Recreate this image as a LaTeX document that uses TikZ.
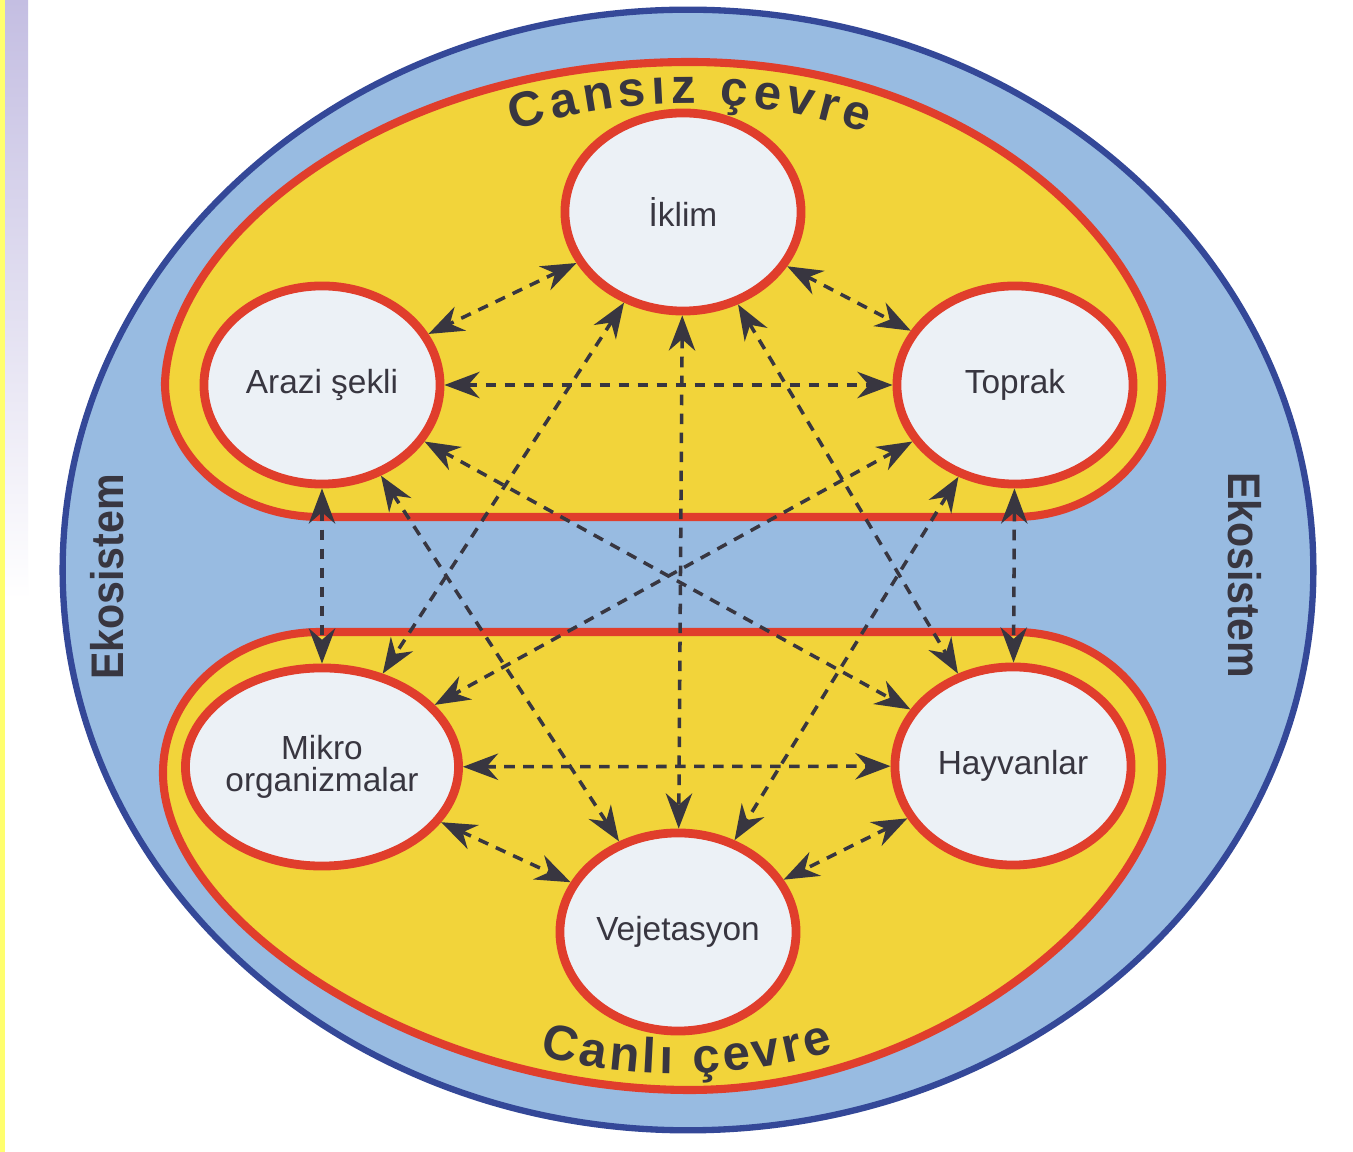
\documentclass[tikz,border=0pt]{standalone}
\usepackage{fontspec}
\setmainfont{Liberation Sans}
\newfontfamily\ekofont{Liberation Sans}[FakeStretch=0.9]
\usepackage{tikz}
\usepackage{xcolor}
\usetikzlibrary{shapes.geometric, arrows.meta, decorations.text}

\definecolor{skyblue}{RGB}{152,187,225}
\definecolor{rimblue}{RGB}{52,72,152}
\definecolor{zoneyellow}{RGB}{242,212,58}
\definecolor{rimred}{RGB}{224,62,44}
\definecolor{cellwhite}{RGB}{236,241,246}
\definecolor{inkgray}{RGB}{56,54,64}
\definecolor{stripyellow}{RGB}{255,255,110}
\definecolor{striplilac}{RGB}{196,190,226}

\begin{document}
\begin{tikzpicture}[x=0.01cm, y=-0.01cm,
  factor/.style={ellipse, draw=rimred, line width=2.5pt, fill=cellwhite, minimum width=2.36cm, minimum height=1.98cm, inner sep=0pt, text=inkgray, font=\fontsize{9.5}{9}\selectfont, align=center},
  zone/.style={fill=zoneyellow, draw=rimred, line width=2.3pt},
  link/.style={draw=inkgray, line width=1pt, dash pattern=on 3pt off 2.4pt, >={Stealth[length=10pt,width=7.5pt]}, <->},
  sidelabel/.style={text=inkgray, font=\ekofont\bfseries\fontsize{13}{13}\selectfont},
]
\fill[white] (0,0) rectangle (1353,1152);
\useasboundingbox (0,0) rectangle (1353,1152);
\fill[stripyellow] (0,0) rectangle (5,1152);
\shade[top color=striplilac, bottom color=white] (5,0) rectangle (28,600);

\draw[fill=skyblue, draw=rimblue, line width=1.8pt] (688,570) ellipse [x radius=6.25cm, y radius=5.6cm];

\draw[zone] (320,517) -- (1015,517)
  .. controls (1096,517) and (1162,457) .. (1162,383)
  .. controls (1162,260) and (985,62) .. (690,62)
  .. controls (380,62) and (170,240) .. (165,383)
  .. controls (165,457) and (234,517) .. (320,517) -- cycle;
\draw[zone] (320,632) -- (1015,632)
  .. controls (1096,632) and (1162,693) .. (1162,767)
  .. controls (1162,900) and (940,1090) .. (690,1090)
  .. controls (420,1090) and (163,920) .. (163,773)
  .. controls (163,695) and (233,632) .. (320,632) -- cycle;

\node[factor] (iklim) at (683,212) {İklim};
\node[factor] (arazi) at (322,385) {Arazi şekli};
\node[factor] (toprak) at (1015,385) {Toprak};
\node[factor] (mikro) at (322,767) {Mikro\\organizmalar};
\node[factor] (hayvan) at (1013,766) {Hayvanlar};
\node[factor] (vejet) at (678,932) {Vejetasyon};

\draw[link] (iklim) -- (arazi);
\draw[link] (iklim) -- (toprak);
\draw[link] (iklim) -- (vejet);
\draw[link] (iklim) -- (mikro);
\draw[link] (iklim) -- (hayvan);
\draw[link] (arazi) -- (toprak);
\draw[link] (arazi) -- (mikro);
\draw[link] (arazi) -- (vejet);
\draw[link] (arazi) -- (hayvan);
\draw[link] (toprak) -- (hayvan);
\draw[link] (toprak) -- (mikro);
\draw[link] (toprak) -- (vejet);
\draw[link] (mikro) -- (hayvan);
\draw[link] (mikro) -- (vejet);
\draw[link] (hayvan) -- (vejet);

\path[decorate, decoration={text along path, text align={fit to path}, text color=inkgray,
  text={|\bfseries\fontsize{14}{14}\selectfont|Cansız çevre}}]
  (514,131) .. controls (632,94) and (748,94) .. (866,133);
\path[decorate, decoration={text along path, text align={fit to path}, text color=inkgray,
  text={|\bfseries\fontsize{14}{14}\selectfont|Canlı çevre}}]
  (540,1055) .. controls (625,1080) and (740,1080) .. (834,1051);

\node[sidelabel, rotate=90] (ekoleft) at (107,577) {Ekosistem};
\node[sidelabel, rotate=-90] (ekoright) at (1245,575) {Ekosistem};
\end{tikzpicture}
\end{document}
